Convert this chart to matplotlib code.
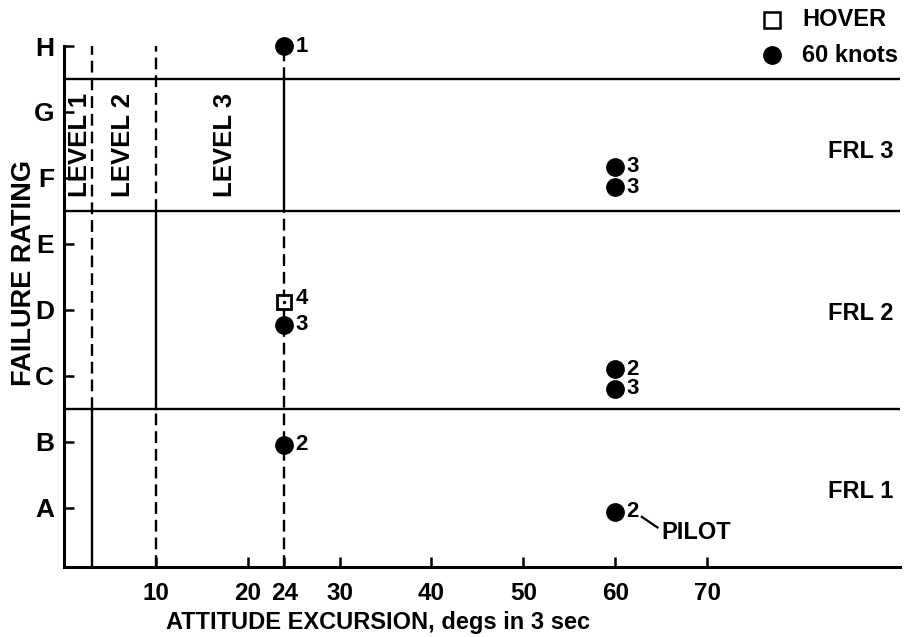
import numpy as np
import matplotlib
matplotlib.use('Agg')
import matplotlib.pyplot as plt

plt.rcParams['font.family'] = ['Liberation Sans', 'DejaVu Sans']
plt.rcParams['font.weight'] = 'bold'

# y categories
cats = ['A', 'B', 'C', 'D', 'E', 'F', 'G', 'H']
cat_pos = [1, 2, 3, 4, 5, 6, 7, 8]

# x ticks
x_ticks = [10, 20, 24, 30, 40, 50, 60, 70]

# hover points
hover_x = [24]
hover_y = [4.12]
hover_lbl = ['4']

# 60 knots points
knots_x = [24, 24, 24, 60, 60, 60, 60, 60]
knots_y = [8.0, 3.77, 1.95, 6.17, 5.86, 3.1, 2.8, 0.94]
knots_lbl = ['1', '3', '2', '3', '3', '2', '3', '2']

# failure rating level bands
frl_bounds = [2.5, 5.5, 7.5]
frl_names = ['FRL 1', 'FRL 2', 'FRL 3']
frl_text_y = [1.25, 3.95, 6.4]

# handling quality level boundaries (solid inside one FRL band, dashed elsewhere)
level_x = [3, 10, 24]
solid_lo = [0.1, 2.5, 5.5]
solid_hi = [2.5, 5.5, 7.5]
level_names = ['LEVEL 1', 'LEVEL 2', 'LEVEL 3']
level_text_x = [1.75, 6.4, 17.5]

YMIN, YMAX = 0.1, 8.0
XMIN, XMAX = 0, 91

fig = plt.figure(figsize=(9.08, 6.37), dpi=100)
ax = fig.add_axes([64/908, 1-567/637, (900-64)/908, (567-46)/637])
ax.set_xlim(XMIN, XMAX)
ax.set_ylim(YMIN, YMAX)

lw = 1.7
dash = (0, (5, 2.5))
for y in frl_bounds:
    ax.plot([XMIN, XMAX], [y, y], color='black', lw=lw, solid_capstyle='butt')

for x, lo, hi in zip(level_x, solid_lo, solid_hi):
    ax.plot([x, x], [lo, hi], color='black', lw=lw)
    ax.plot([x, x], [YMIN, lo], color='black', lw=lw, ls=dash)
    ax.plot([x, x], [hi, YMAX], color='black', lw=lw, ls=dash)

for x, name in zip(level_text_x, level_names):
    ax.text(x, 6.5, name, rotation=90, ha='center', va='center', fontsize=18.5)

for y, name in zip(frl_text_y, frl_names):
    ax.text(90.3, y, name, ha='right', va='center', fontsize=17)

ax.plot(knots_x, knots_y, 'o', color='black', ms=12.5, ls='none', clip_on=False, zorder=5)
ax.plot(hover_x, hover_y, 's', mfc='white', mec='black', mew=2, ms=10, ls='none', zorder=6)
ax.plot(hover_x, hover_y, '.', color='black', ms=3, zorder=7)

for x, y, t in zip(knots_x, knots_y, knots_lbl):
    ax.text(x + 1.2, y, t, ha='left', va='center', fontsize=16)
for x, y, t in zip(hover_x, hover_y, hover_lbl):
    ax.text(x + 1.2, y + 0.05, t, ha='left', va='center', fontsize=16)

# pilot note
ax.plot([62.9, 64.6], [0.86, 0.7], color='black', lw=1.6)
ax.text(65.0, 0.62, 'PILOT', ha='left', va='center', fontsize=17)

ax.spines['top'].set_visible(False)
ax.spines['right'].set_visible(False)
ax.spines['left'].set_linewidth(2.2)
ax.spines['bottom'].set_linewidth(2.2)

ax.set_xticks(x_ticks)
ax.set_xticklabels([str(v) for v in x_ticks], fontsize=17.5)
ax.set_yticks(cat_pos)
ax.set_yticklabels(cats, fontsize=19)
ax.tick_params(direction='in', length=7, width=1.8)
ax.tick_params(axis='y', pad=7)
ax.tick_params(axis='x', pad=11)

ax.set_xlabel('ATTITUDE EXCURSION, degs in 3 sec', fontsize=17, fontweight='bold',
              labelpad=4, x=0.376)
ax.set_ylabel('FAILURE RATING', fontsize=19.5, fontweight='bold', labelpad=-2, y=0.564)

# legend
fig.lines.append(plt.Line2D([772/908], [1-20/637], marker='s', mfc='white', mec='black',
                            mew=1.8, ms=11, transform=fig.transFigure))
fig.text(802/908, 1-20/637, 'HOVER', fontsize=17, ha='left', va='center')
fig.lines.append(plt.Line2D([772/908], [1-55/637], marker='o', color='black', ms=12.5,
                            transform=fig.transFigure))
fig.text(802/908, 1-55/637, '60 knots', fontsize=17, ha='left', va='center')

fig.savefig('out.png', dpi=100)
